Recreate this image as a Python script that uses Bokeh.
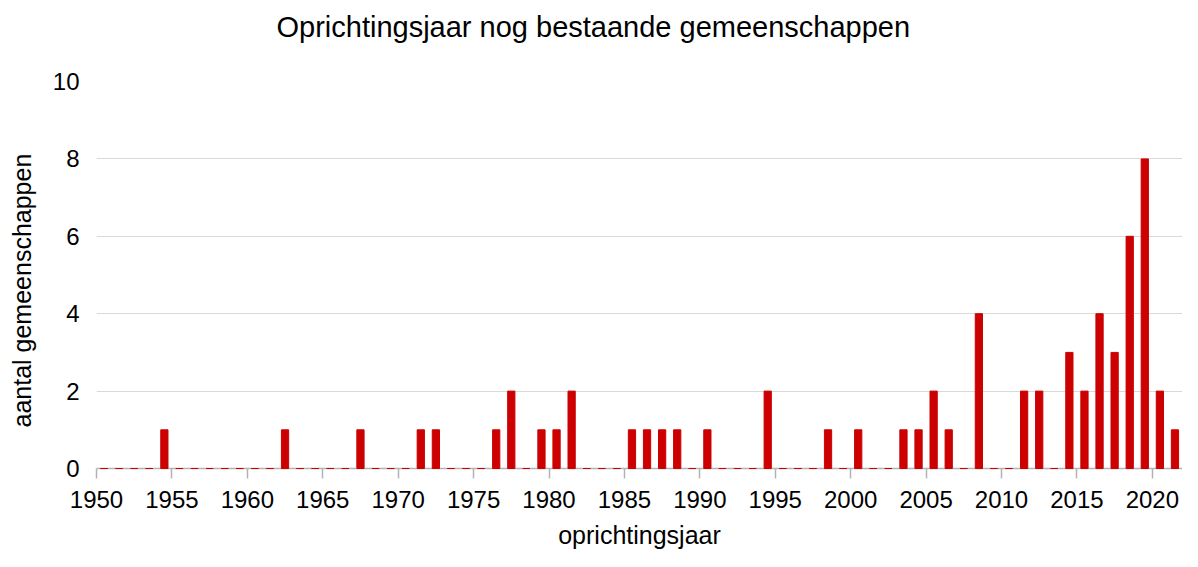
from bokeh.plotting import figure
from bokeh.models import Range1d, FixedTicker, ColumnDataSource, Title
from bokeh.embed import file_html
from bokeh.resources import INLINE

years = list(range(1950, 2022))
counts = [0, 0, 0, 0, 1, 0, 0, 0, 0, 0,   # 1950-1959
          0, 0, 1, 0, 0, 0, 0, 1, 0, 0,   # 1960-1969
          0, 1, 1, 0, 0, 0, 1, 2, 0, 1,   # 1970-1979
          1, 2, 0, 0, 0, 1, 1, 1, 1, 0,   # 1980-1989
          1, 0, 0, 0, 2, 0, 0, 0, 1, 0,   # 1990-1999
          1, 0, 0, 1, 1, 2, 1, 0, 4, 0,   # 2000-2009
          0, 2, 2, 0, 3, 2, 4, 3, 6, 8,   # 2010-2019
          2, 1]                            # 2020-2021
x_ticks = list(range(1950, 2021, 5))
y_ticks = [0, 2, 4, 6, 8, 10]

title = "Oprichtingsjaar nog bestaande gemeenschappen"
x_label = "oprichtingsjaar"
y_label = "aantal gemeenschappen"

FONT = "Liberation Sans"
RED = "#cc0000"

src = ColumnDataSource(dict(x=[y + 0.5 for y in years], top=counts))

p = figure(width=1182, height=551, output_backend="svg", toolbar_location=None,
           x_range=Range1d(1950, 2022), y_range=Range1d(0, 10),
           min_border_left=96, min_border_right=0, min_border_top=81,
           min_border_bottom=83, title=None)

r = p.vbar(x="x", top="top", bottom=0, width=0.48, source=src,
           fill_color=RED, line_color=RED, line_width=1)
r.level = "overlay"

# spacer above the frame, then the chart title
p.add_layout(Title(text=" ", text_font_size="2px", standoff=35), "above")
p.add_layout(Title(text=title, text_font=FONT, text_font_size="29px",
                   text_font_style="normal", text_color="black",
                   align="left", offset=180, standoff=0), "above")

p.outline_line_color = None
p.background_fill_color = "white"
p.border_fill_color = "white"

xa = p.xaxis[0]
xa.ticker = FixedTicker(ticks=x_ticks)
xa.axis_line_color = "#b3b3b3"
xa.axis_line_width = 1.5
xa.major_tick_line_color = "#b3b3b3"
xa.major_tick_line_width = 1.5
xa.major_tick_out = 10
xa.major_tick_in = 0
xa.minor_tick_line_color = None
xa.major_label_text_font = FONT
xa.major_label_text_font_size = "24px"
xa.major_label_text_color = "black"
xa.major_label_standoff = 12
xa.axis_label = x_label
xa.axis_label_text_font = FONT
xa.axis_label_text_font_size = "25px"
xa.axis_label_text_font_style = "normal"
xa.axis_label_text_color = "black"
xa.axis_label_standoff = 10

ya = p.yaxis[0]
ya.ticker = FixedTicker(ticks=y_ticks)
ya.axis_line_color = None
ya.major_tick_line_color = None
ya.major_tick_out = 0
ya.major_tick_in = 0
ya.minor_tick_line_color = None
ya.major_label_text_font = FONT
ya.major_label_text_font_size = "24px"
ya.major_label_text_color = "black"
ya.major_label_standoff = 17

# spacer left of the tick labels, then the y-axis title
p.add_layout(Title(text=" ", text_font_size="2px", standoff=10), "left")
p.add_layout(Title(text=y_label, text_font=FONT, text_font_size="25px",
                   text_font_style="normal", text_color="black",
                   align="left", offset=41, standoff=0), "left")

p.xgrid.grid_line_color = None
p.ygrid.ticker = FixedTicker(ticks=[2, 4, 6, 8, 10])
p.ygrid.grid_line_color = "#d9d9d9"
p.ygrid.grid_line_width = 1

open("out.html", "w").write(file_html(p, INLINE))
